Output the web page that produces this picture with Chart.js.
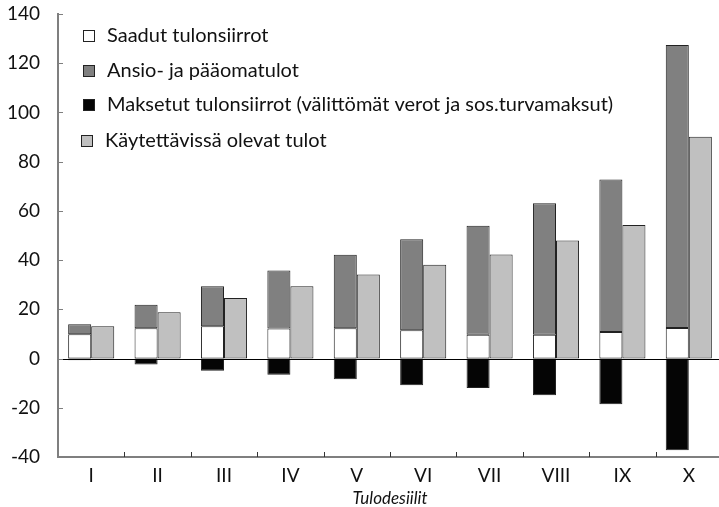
<!DOCTYPE html>
<html>
<head>
<meta charset="utf-8">
<script src="https://cdn.jsdelivr.net/npm/chart.js@4/dist/chart.umd.min.js"></script>
<style>
  html, body { margin: 0; padding: 0; background: #fff; overflow: hidden; }
  #wrap { position: relative; width: 722px; height: 507px; }
</style>
</head>
<body>
<div id="wrap"><canvas id="c"></canvas></div>
<script>
const categories = ['I', 'II', 'III', 'IV', 'V', 'VI', 'VII', 'VIII', 'IX', 'X'];
const receivedTransfers = [9.9, 12.3, 13.1, 12.2, 12.3, 11.5, 9.7, 9.7, 10.8, 12.4];
const earnedIncome = [4.0, 9.6, 16.3, 23.6, 29.9, 37.0, 44.3, 53.4, 62.0, 115.0];
const paidTransfers = [-0.7, -2.4, -5.0, -6.6, -8.4, -10.8, -12.0, -14.9, -18.6, -37.3];
const disposableIncome = [13.1, 18.8, 24.6, 29.4, 34.2, 38.1, 42.3, 48.0, 54.3, 90.1];
const seriesLabels = [
  'Saadut tulonsiirrot',
  'Ansio- ja pääomatulot',
  'Maksetut tulonsiirrot (välittömät verot ja sos.turvamaksut)',
  'Käytettävissä olevat tulot'
];
const yTicks = [-40, -20, 0, 20, 40, 60, 80, 100, 120, 140];
const xTitle = 'Tulodesiilit';

const FONT = "Lato, 'Open Sans', 'DejaVu Sans', sans-serif";
const AXIS_COLOR = '#7f7f7f';

const inwardTicks = {
  id: 'inwardTicks',
  afterDatasetsDraw(chart) {
    const ctx = chart.ctx;
    const area = chart.chartArea;
    const y = chart.scales.y;
    const x = chart.scales.x;
    ctx.save();
    ctx.strokeStyle = '#000';
    ctx.lineWidth = 1;
    const y0 = Math.round(y.getPixelForValue(0)) + 0.5;
    ctx.beginPath();
    ctx.moveTo(area.left, y0);
    ctx.lineTo(area.right, y0);
    ctx.stroke();
    ctx.strokeStyle = AXIS_COLOR;
    yTicks.forEach(v => {
      const py = Math.round(y.getPixelForValue(v)) + 0.5;
      ctx.beginPath();
      ctx.moveTo(area.left, py);
      ctx.lineTo(area.left + 5, py);
      ctx.stroke();
    });
    ctx.strokeStyle = '#333';
    for (let i = 1; i < categories.length; i++) {
      const px = Math.round((x.getPixelForValue(i - 1) + x.getPixelForValue(i)) / 2) + 0.5;
      ctx.beginPath();
      ctx.moveTo(px, area.bottom);
      ctx.lineTo(px, area.bottom - 5);
      ctx.stroke();
    }
    ctx.restore();
  }
};

const insideLegend = {
  id: 'insideLegend',
  afterDraw(chart) {
    const ctx = chart.ctx;
    const rows = [36, 71, 105, 141];
    const boxX = [83, 83, 83, 81];
    const textX = [107, 107, 107, 105];
    ctx.save();
    ctx.font = '20px ' + FONT;
    ctx.textBaseline = 'middle';
    ctx.textAlign = 'left';
    chart.data.datasets.forEach((ds, i) => {
      const cy = rows[i];
      ctx.fillStyle = ds.backgroundColor;
      ctx.fillRect(boxX[i] + 0.5, cy - 5.5, 11, 11);
      ctx.strokeStyle = '#222';
      ctx.lineWidth = 1;
      ctx.strokeRect(boxX[i] + 0.5, cy - 5.5, 11, 11);
      ctx.fillStyle = '#111';
      ctx.fillText(ds.label, textX[i], cy);
    });
    ctx.restore();
  }
};

new Chart(document.getElementById('c'), {
  type: 'bar',
  data: {
    labels: categories,
    datasets: [
      { label: seriesLabels[0], data: receivedTransfers, stack: 'a', backgroundColor: '#ffffff' },
      { label: seriesLabels[1], data: earnedIncome, stack: 'a', backgroundColor: '#808080' },
      { label: seriesLabels[2], data: paidTransfers, stack: 'a', backgroundColor: '#050505' },
      { label: seriesLabels[3], data: disposableIncome, stack: 'b', backgroundColor: '#c0c0c0' }
    ]
  },
  options: {
    responsive: true,
    maintainAspectRatio: false,
    animation: false,
    layout: { padding: 0 },
    datasets: {
      bar: {
        borderColor: '#222',
        borderWidth: 1,
        borderSkipped: false,
        categoryPercentage: 0.694,
        barPercentage: 1.0
      }
    },
    plugins: {
      legend: { display: false },
      tooltip: { enabled: false }
    },
    scales: {
      x: {
        stacked: true,
        grid: { display: false, drawTicks: false },
        border: { display: true, color: AXIS_COLOR, width: 2 },
        ticks: { color: '#111', font: { family: FONT, size: 19 }, padding: 7, maxRotation: 0 },
        title: {
          display: true, text: xTitle, color: '#111',
          font: { family: FONT, size: 17, style: 'italic', lineHeight: 1.0 },
          padding: { top: 0, bottom: 0 }
        },
        afterFit(scale) { scale.height = 50; }
      },
      y: {
        stacked: true,
        min: -40, max: 140,
        grid: { display: false, drawTicks: false },
        border: { display: true, color: AXIS_COLOR, width: 2 },
        afterBuildTicks(scale) { scale.ticks = yTicks.map(v => ({ value: v })); },
        ticks: { color: '#111', font: { family: FONT, size: 19 }, padding: 18 },
        afterFit(scale) { scale.width = 58; scale.paddingTop = 14; scale.paddingBottom = 0; }
      }
    }
  },
  plugins: [inwardTicks, insideLegend]
});
</script>
</body>
</html>
